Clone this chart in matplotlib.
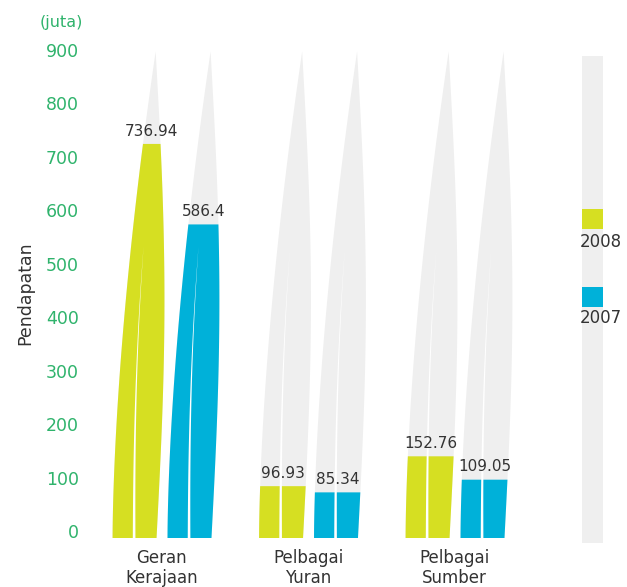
import numpy as np
import matplotlib.pyplot as plt
from matplotlib.patches import Polygon

# data
categories = ["Geran\nKerajaan", "Pelbagai\nYuran", "Pelbagai\nSumber"]
years = ["2008", "2007"]
values_2008 = [736.94, 96.93, 152.76]
values_2007 = [586.4, 85.34, 109.05]
labels_2008 = ["736.94", "96.93", "152.76"]
labels_2007 = ["586.4", "85.34", "109.05"]
yticks = [0, 100, 200, 300, 400, 500, 600, 700, 800, 900]

c_2008 = "#d6df22"
c_2007 = "#00b1d9"
c_gray = "#efefef"
c_green = "#2fb36c"
c_text = "#333333"

HORN_TOP = 910      # tip of the grey horn, data units
BAR_W = 0.30        # bar width at the base, in category units
OFFSETS = [-0.334, 0.041]


def left_edge(t):
    return 0.98 * t ** 1.65


def right_edge(t):
    return (1 - t) + 0.98 * t + 0.19 * np.sin(np.pi * t)


def horn_poly(x0, t_max, color):
    t = np.linspace(0, t_max, 200)
    xs = np.concatenate([x0 + BAR_W * left_edge(t), (x0 + BAR_W * right_edge(t))[::-1]])
    ys = np.concatenate([HORN_TOP * t, (HORN_TOP * t)[::-1]])
    return Polygon(np.column_stack([xs, ys]), closed=True, facecolor=color,
                   edgecolor="none")


def divider_poly(x0):
    t = np.linspace(0, 0.6, 100)
    d = 0.49 + 0.7 * t ** 2.3
    hw = 0.03 * (1 - t / 0.6)
    xs = np.concatenate([x0 + BAR_W * (d - hw), (x0 + BAR_W * (d + hw))[::-1]])
    ys = np.concatenate([HORN_TOP * t, (HORN_TOP * t)[::-1]])
    return Polygon(np.column_stack([xs, ys]), closed=True, facecolor="white",
                   edgecolor="none")


fig = plt.figure(figsize=(6.27, 5.87), dpi=100)
ax = fig.add_axes([95 / 627, 49 / 587, 465 / 627, 508 / 587])
ax.set_xlim(-0.454, 2.720)
ax.set_ylim(0, 950)

series = [(values_2008, labels_2008, c_2008), (values_2007, labels_2007, c_2007)]
for i in range(len(categories)):
    for (vals, labs, col), off in zip(series, OFFSETS):
        x0 = i + off
        tv = vals[i] / HORN_TOP
        ax.add_patch(horn_poly(x0, 1.0, c_gray))
        ax.add_patch(horn_poly(x0, tv, col))
        ax.add_patch(divider_poly(x0))
        xc = x0 + BAR_W * (left_edge(tv) + right_edge(tv)) / 2
        ax.annotate(labs[i], (xc, vals[i]), xytext=(0, 6), textcoords="offset points",
                    ha="center", va="baseline", fontsize=11, color=c_text)

for s in ax.spines.values():
    s.set_visible(False)

ax.set_xticks(range(len(categories)))
ax.set_xticklabels(categories, fontsize=12, color=c_text, linespacing=1.15)
ax.tick_params(axis="x", length=0, pad=8)

ax.set_yticks(yticks)
ax.set_yticklabels([str(v) for v in yticks], fontsize=12.5, color=c_green)
ax.tick_params(axis="y", length=0, pad=11.5)
for lab in ax.get_yticklabels():
    lab.set_va("baseline")

fig.text(83 / 627, 1 - 22 / 587, "(juta)", ha="right", va="center",
         fontsize=11.5, color=c_green)
fig.text(25 / 627, 1 - 293 / 587, "Pendapatan", rotation=90, ha="center",
         va="center", fontsize=12.5, color=c_text)

# legend strip
lax = fig.add_axes([582 / 627, 44 / 587, 21 / 627, 487 / 587])
lax.set_facecolor(c_gray)
lax.set_xlim(0, 1)
lax.set_ylim(0, 1)
for s in lax.spines.values():
    s.set_visible(False)
lax.set_xticks([])
lax.set_yticks([])
lax.add_patch(plt.Rectangle((0, 0.645), 1, 0.041, facecolor=c_2008, edgecolor="none"))
lax.add_patch(plt.Rectangle((0, 0.485), 1, 0.040, facecolor=c_2007, edgecolor="none"))
lax.text(0.9, 0.618, years[0], ha="center", va="center", fontsize=12,
         color=c_text, clip_on=False)
lax.text(0.9, 0.462, years[1], ha="center", va="center", fontsize=12,
         color=c_text, clip_on=False)

fig.savefig("out.png", dpi=100)
